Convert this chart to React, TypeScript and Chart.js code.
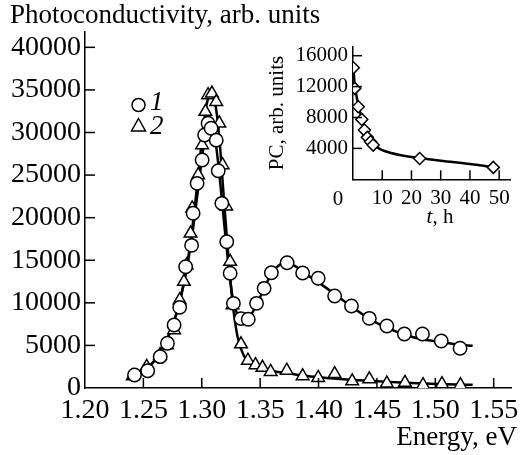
import React, { useEffect, useRef } from "react";
import { Chart, registerables } from "chart.js";

Chart.register(...registerables);

const FONT = "'Liberation Serif', 'Times New Roman', serif";

// ---- main plot: series 1 (circles) ----
const energy1 = [1.2424, 1.2537, 1.2644, 1.2706, 1.2763, 1.2811, 1.2862, 1.2913, 1.2926, 1.296, 1.3003, 1.3025, 1.3054, 1.308, 1.3124, 1.3141, 1.3172, 1.3214, 1.3243, 1.3271, 1.3336, 1.3398, 1.3469, 1.3534, 1.3596, 1.3731, 1.3864, 1.3997, 1.4138, 1.4282, 1.4435, 1.4585, 1.4735, 1.489, 1.5051, 1.5212];
const pc1 = [1530, 2030, 3680, 5250, 7400, 9470, 14240, 16750, 20510, 24030, 26770, 29700, 31080, 30490, 29100, 25500, 21680, 17170, 13470, 9940, 8150, 8070, 9940, 11700, 13540, 14710, 13500, 12880, 10800, 9630, 8180, 7280, 6340, 6340, 5520, 4660];

// ---- main plot: series 2 (triangles) ----
const energy2 = [1.241, 1.2528, 1.2642, 1.2701, 1.2763, 1.2811, 1.2847, 1.287, 1.2904, 1.2918, 1.2969, 1.3003, 1.3031, 1.3054, 1.3087, 1.3124, 1.315, 1.3178, 1.3209, 1.3243, 1.3263, 1.3336, 1.3395, 1.346, 1.352, 1.359, 1.3728, 1.3864, 1.3997, 1.4138, 1.4288, 1.4435, 1.4585, 1.474, 1.4895, 1.5057, 1.5215];
const pc2 = [1410, 2500, 3870, 5050, 6810, 10330, 12480, 14440, 18150, 21100, 25010, 28530, 32440, 34400, 34600, 33600, 31080, 26180, 21330, 14830, 9740, 5150, 3230, 2700, 2400, 1910, 2050, 1400, 1200, 1650, 800, 1050, 550, 620, 350, 470, 350];

// ---- fitted curves ----
const fitEnergy1 = [1.240, 1.250, 1.260, 1.270, 1.278, 1.285, 1.291, 1.297, 1.302, 1.306, 1.310, 1.314, 1.318, 1.322, 1.326, 1.330, 1.335, 1.340, 1.347, 1.355, 1.363, 1.372, 1.380, 1.390, 1.400, 1.415, 1.430, 1.445, 1.460, 1.475, 1.490, 1.505, 1.520, 1.532];
const fitPc1 = [1100, 1900, 3300, 5600, 8600, 12500, 17200, 23500, 28800, 31300, 30500, 26500, 21000, 15500, 11000, 8800, 8000, 8200, 9800, 12200, 14000, 14700, 14300, 13300, 12400, 10900, 9400, 8000, 7000, 6200, 5700, 5400, 5100, 4950];
const fitEnergy2 = [1.240, 1.250, 1.260, 1.270, 1.278, 1.285, 1.291, 1.297, 1.302, 1.306, 1.309, 1.312, 1.315, 1.318, 1.321, 1.324, 1.327, 1.331, 1.336, 1.342, 1.350, 1.360, 1.375, 1.390, 1.410, 1.430, 1.450, 1.470, 1.490, 1.510, 1.532];
const fitPc2 = [1100, 1900, 3300, 5600, 8600, 12500, 17800, 25000, 31500, 34200, 34500, 33000, 29500, 24000, 18500, 13500, 9300, 5800, 3800, 2800, 2300, 2000, 1700, 1400, 1150, 950, 800, 650, 520, 430, 380];

const mainXTicks = [1.2, 1.25, 1.3, 1.35, 1.4, 1.45, 1.5, 1.55];
const mainYTicks = [0, 5000, 10000, 15000, 20000, 25000, 30000, 35000, 40000];

// ---- inset ----
const insetT = [0.1, 0.6, 1.8, 3.0, 3.9, 4.9, 6.0, 6.9, 22.8, 48];
const insetPc = [14430, 11770, 9390, 7750, 6370, 5430, 4850, 4430, 2700, 1540];
const insetFitT = [0, 0.5, 1, 2, 3, 4, 5, 6, 7, 8, 10, 13, 16, 20, 23, 30, 40, 50];
const insetFitPc = [14900, 12600, 11200, 9300, 7900, 6700, 5700, 5000, 4500, 4200, 3780, 3400, 3150, 2900, 2750, 2400, 1970, 1450];
const insetXTicks = [0, 10, 20, 30, 40, 50];
const insetYTicks = [4000, 8000, 12000, 16000];

const zip = (xs: number[], ys: number[]) => xs.map((x, i) => ({ x, y: ys[i] }));

const inwardTicks = {
  id: "inwardTicks",
  afterDraw(chart: any, _args: any, opts: any) {
    const ctx = chart.ctx;
    const { left, bottom } = chart.chartArea;
    const xs = chart.scales.x;
    const ys = chart.scales.y;
    ctx.save();
    ctx.strokeStyle = "#000";
    ctx.lineWidth = opts.width || 1.5;
    const len = opts.length || 10;
    for (const v of opts.x || []) {
      const px = xs.getPixelForValue(v);
      if (Math.abs(px - left) < 2) continue;
      ctx.beginPath();
      ctx.moveTo(px, bottom);
      ctx.lineTo(px, bottom - len);
      ctx.stroke();
    }
    for (const v of opts.y || []) {
      const py = ys.getPixelForValue(v);
      if (Math.abs(py - bottom) < 2) continue;
      ctx.beginPath();
      ctx.moveTo(left, py);
      ctx.lineTo(left + len, py);
      ctx.stroke();
    }
    ctx.restore();
  },
};

const mainText = {
  id: "mainText",
  afterDraw(chart: any) {
    const ctx = chart.ctx;
    ctx.save();
    ctx.fillStyle = "#000";
    ctx.strokeStyle = "#000";
    ctx.textBaseline = "alphabetic";
    ctx.font = `27px ${FONT}`;
    ctx.textAlign = "left";
    ctx.fillText("Photoconductivity, arb. units", 10, 23);
    ctx.textAlign = "right";
    ctx.fillText("Energy, eV", 517, 445);
    // legend
    ctx.lineWidth = 1.5;
    ctx.fillStyle = "#fff";
    ctx.beginPath();
    ctx.arc(138.5, 105, 6.5, 0, Math.PI * 2);
    ctx.fill();
    ctx.stroke();
    ctx.beginPath();
    ctx.moveTo(138.5, 118.5);
    ctx.lineTo(145.5, 131);
    ctx.lineTo(131.5, 131);
    ctx.closePath();
    ctx.fill();
    ctx.stroke();
    ctx.fillStyle = "#000";
    ctx.textAlign = "left";
    ctx.font = `italic 27px ${FONT}`;
    ctx.fillText("1", 150, 110);
    ctx.fillText("2", 150, 134);
    ctx.restore();
  },
};

const insetText = {
  id: "insetText",
  afterDraw(chart: any) {
    const ctx = chart.ctx;
    const xs = chart.scales.x;
    ctx.save();
    ctx.fillStyle = "#000";
    ctx.textBaseline = "alphabetic";
    ctx.font = `21px ${FONT}`;
    ctx.textAlign = "center";
    ctx.fillText("0", xs.getPixelForValue(0) - 15, 175);
    ctx.font = `italic 21px ${FONT}`;
    ctx.textAlign = "left";
    const tW = ctx.measureText("t").width;
    ctx.font = `21px ${FONT}`;
    const rW = ctx.measureText(", h").width;
    const startX = 185 - (tW + rW) / 2;
    ctx.font = `italic 21px ${FONT}`;
    ctx.fillText("t", startX, 193);
    ctx.font = `21px ${FONT}`;
    ctx.fillText(", h", startX + tW, 193);
    ctx.restore();
  },
};

function MainChart() {
  const ref = useRef<HTMLCanvasElement>(null);
  useEffect(() => {
    const chart = new Chart(ref.current as HTMLCanvasElement, {
      type: "scatter",
      data: {
        datasets: [
          {
            label: "1",
            data: zip(energy1, pc1),
            pointStyle: "circle",
            pointRadius: 6.7,
            pointBorderWidth: 1.5,
            pointBackgroundColor: "#fff",
            pointBorderColor: "#000",
            showLine: false,
          },
          {
            label: "2",
            data: zip(energy2, pc2),
            pointStyle: "triangle",
            pointRadius: 7.3,
            pointBorderWidth: 1.5,
            pointBackgroundColor: "#fff",
            pointBorderColor: "#000",
            showLine: false,
          },
          {
            label: "fit1",
            data: zip(fitEnergy1, fitPc1),
            showLine: true,
            pointRadius: 0,
            borderColor: "#000",
            borderWidth: 2.5,
            cubicInterpolationMode: "monotone",
          },
          {
            label: "fit2",
            data: zip(fitEnergy2, fitPc2),
            showLine: true,
            pointRadius: 0,
            borderColor: "#000",
            borderWidth: 2.5,
            cubicInterpolationMode: "monotone",
          },
        ],
      } as any,
      options: {
        responsive: false,
        animation: false,
        layout: { padding: { left: 0, right: 5, top: 32, bottom: 0 } },
        plugins: {
          legend: { display: false },
          tooltip: { enabled: false },
          inwardTicks: { x: mainXTicks, y: mainYTicks, length: 10, width: 1.5 },
        } as any,
        scales: {
          x: {
            type: "linear",
            min: 1.2,
            max: 1.565,
            grid: { drawOnChartArea: false, drawTicks: false },
            border: { display: true, color: "#000", width: 1.5 },
            afterBuildTicks: (s: any) => {
              s.ticks = mainXTicks.map((v) => ({ value: v }));
            },
            afterFit: (s: any) => {
              s.height = 67;
              s.paddingLeft = 0;
              s.paddingRight = 0;
            },
            ticks: {
              autoSkip: false,
              maxRotation: 0,
              padding: 6,
              color: "#000",
              font: { family: FONT, size: 28 },
              callback: (v: any) => Number(v).toFixed(2),
            },
          },
          y: {
            type: "linear",
            min: 0,
            max: 41800,
            grid: { drawOnChartArea: false, drawTicks: false },
            border: { display: true, color: "#000", width: 1.5 },
            afterBuildTicks: (s: any) => {
              s.ticks = mainYTicks.map((v) => ({ value: v }));
            },
            afterFit: (s: any) => {
              s.width = 85;
              s.paddingTop = 0;
              s.paddingBottom = 0;
            },
            ticks: {
              autoSkip: false,
              padding: 4,
              color: "#000",
              font: { family: FONT, size: 28 },
              callback: (v: any) => String(v),
            },
          },
        },
      } as any,
      plugins: [inwardTicks, mainText],
    });
    return () => chart.destroy();
  }, []);
  return <canvas ref={ref} width={520} height={455} style={{ position: "absolute", left: 0, top: 0 }} />;
}

function InsetChart() {
  const ref = useRef<HTMLCanvasElement>(null);
  useEffect(() => {
    const chart = new Chart(ref.current as HTMLCanvasElement, {
      type: "scatter",
      data: {
        datasets: [
          {
            label: "PC",
            data: zip(insetT, insetPc),
            pointStyle: "rectRot",
            pointRadius: 6,
            pointBorderWidth: 1.5,
            pointBackgroundColor: "#fff",
            pointBorderColor: "#000",
            showLine: false,
          },
          {
            label: "fit",
            data: zip(insetFitT, insetFitPc),
            showLine: true,
            pointRadius: 0,
            borderColor: "#000",
            borderWidth: 2.5,
            cubicInterpolationMode: "monotone",
          },
        ],
      } as any,
      options: {
        responsive: false,
        animation: false,
        layout: { padding: { left: 0, right: 10, top: 16.7, bottom: 0 } },
        plugins: {
          legend: { display: false },
          tooltip: { enabled: false },
          inwardTicks: { x: insetXTicks, y: insetYTicks, length: 9, width: 1.5 },
        } as any,
        scales: {
          x: {
            type: "linear",
            min: 0,
            max: 53.7,
            grid: { drawOnChartArea: false, drawTicks: false },
            border: { display: true, color: "#000", width: 1.5 },
            afterBuildTicks: (s: any) => {
              s.ticks = insetXTicks.map((v) => ({ value: v }));
            },
            afterFit: (s: any) => {
              s.height = 50.7;
              s.paddingLeft = 0;
              s.paddingRight = 0;
            },
            ticks: {
              autoSkip: false,
              maxRotation: 0,
              padding: 7,
              color: "#000",
              font: { family: FONT, size: 21 },
              callback: (v: any) => (Number(v) === 0 ? "" : String(v)),
            },
          },
          y: {
            type: "linear",
            min: 0,
            max: 17165,
            grid: { drawOnChartArea: false, drawTicks: false },
            border: { display: true, color: "#000", width: 1.5 },
            afterBuildTicks: (s: any) => {
              s.ticks = insetYTicks.map((v) => ({ value: v }));
            },
            afterFit: (s: any) => {
              s.width = 98;
              s.paddingTop = 0;
              s.paddingBottom = 0;
            },
            title: {
              display: true,
              text: "PC, arb. units",
              color: "#000",
              font: { family: FONT, size: 21 },
              padding: { top: 10, bottom: 0 },
            },
            ticks: {
              autoSkip: false,
              padding: 5,
              color: "#000",
              font: { family: FONT, size: 21 },
              callback: (v: any) => String(v),
            },
          },
        },
      } as any,
      plugins: [inwardTicks, insetText],
    });
    return () => chart.destroy();
  }, []);
  return <canvas ref={ref} width={265} height={200} style={{ position: "absolute", left: 255, top: 30 }} />;
}

export default function App() {
  return (
    <div style={{ position: "absolute", left: 0, top: 0, width: 520, height: 455, background: "#fff" }}>
      <MainChart />
      <InsetChart />
    </div>
  );
}
